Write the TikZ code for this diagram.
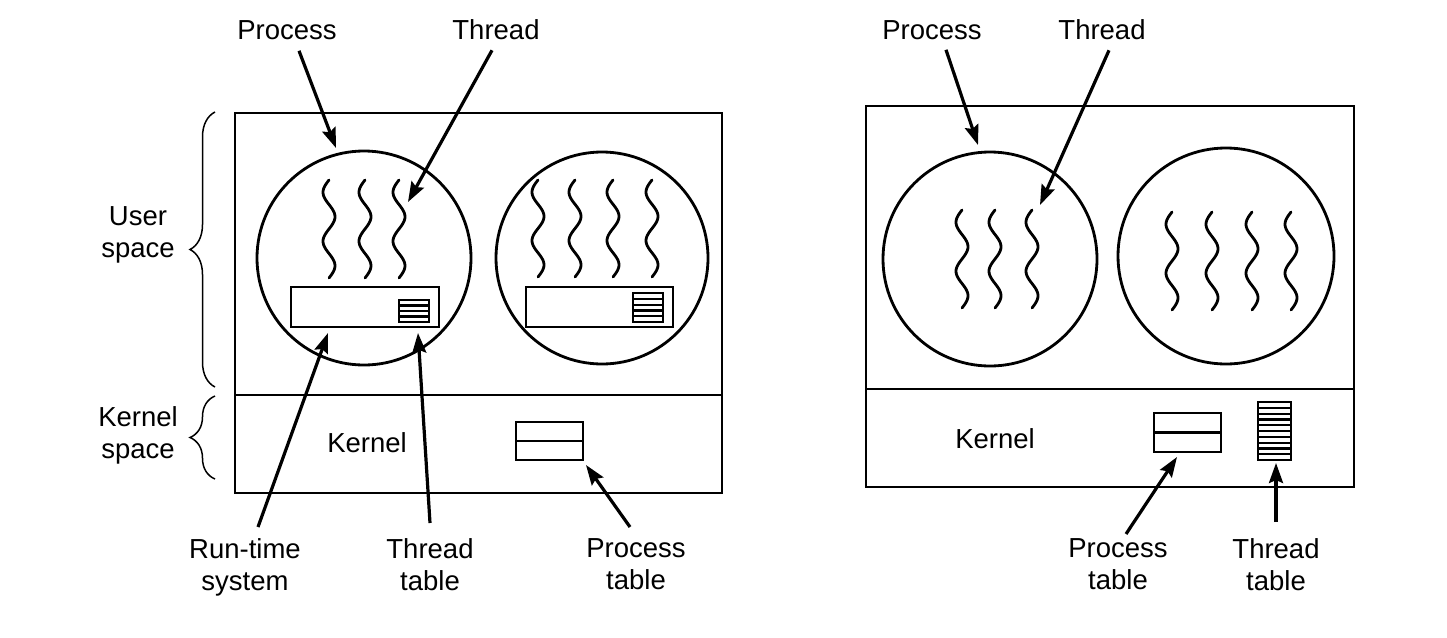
\documentclass[tikz,border=0pt]{standalone}
\usepackage{fontspec}
\setmainfont{Liberation Sans}
\usetikzlibrary{arrows.meta,decorations.pathreplacing,calc}
\begin{document}
\begin{tikzpicture}[x=1pt,y=-1pt,
  lbl/.style={inner sep=0pt,font=\fontsize{27.5}{32}\selectfont,align=center},
  region/.style={draw,line width=2.8pt,inner sep=0pt,outer sep=0pt},
  proc/.style={draw,circle,line width=2.8pt,inner sep=0pt,outer sep=0pt},
  tbox/.style={draw,line width=2.8pt,inner sep=0pt,outer sep=0pt},
  arr/.style={line width=3.2pt,-{Stealth[length=20pt,width=14pt,inset=3pt]}},
  squigline/.style={line width=2.8pt,line cap=round},
  rowline/.style={line width=2.2pt},
  bracestyle/.style={line width=1.5pt,decorate,decoration={brace,amplitude=25pt}}]
\useasboundingbox (0,0) rectangle (1447,637);
\newcommand\squigl[3]{\draw[squigline] plot[domain=0:1,samples=60,smooth] ({#1-6*sin(720*\x)},{#2+#3*\x});}
\newcommand\rowsin[2]{\foreach \k in {1,...,#2}{\pgfmathsetmacro\fr{\k/(#2+1)}\draw[rowline] ($(#1.north west)!\fr!(#1.south west)$) -- ($(#1.north east)!\fr!(#1.south east)$);}}

% ---------------- left diagram ----------------
\node[region,minimum width=487pt,minimum height=282pt] (user1) at (478.5,254) {};
\node[region,minimum width=487pt,minimum height=98pt] (kern1) at (478.5,444) {};
\node[proc,minimum size=214pt] (c11) at (364,258) {};
\node[proc,minimum size=212pt] (c12) at (602,258) {};
\squigl{329}{180}{98}
\squigl{365}{180}{98}
\squigl{399}{180}{98}
\squigl{538}{180}{97}
\squigl{575}{180}{97}
\squigl{613}{180}{97}
\squigl{652}{180}{97}
\node[tbox,minimum width=148pt,minimum height=40pt] (rt1) at (365,307) {};
\node[tbox,minimum width=30pt,minimum height=22pt] (tt1) at (414,311) {};
\rowsin{tt1}{3}
\node[tbox,minimum width=147pt,minimum height=40pt] (rt2) at (599.5,307) {};
\node[tbox,minimum width=30pt,minimum height=29pt] (tt2) at (648,307.5) {};
\rowsin{tt2}{4}
\node[tbox,minimum width=67pt,minimum height=38pt] (pt1) at (549.5,441) {};
\rowsin{pt1}{1}
\node[lbl] (k1) at (367,443) {Kernel};

\draw[bracestyle] (215,387) -- (215,112);
\draw[bracestyle] (215,479) -- (215,396);
\node[lbl,anchor=north] (us) at (138,206) {User\\space};
\node[lbl,anchor=north] (ks) at (138,406) {Kernel\\space};

\node[lbl] (lp1) at (287,30) {Process};
\node[lbl] (lt1) at (496,30) {Thread};
\coordinate (ap1) at (336,148);
\coordinate (at1) at (408,202);
\draw[arr] ([shift={(12,11)}]lp1.south) -- (ap1);
\draw[arr] ([shift={(-4,10)}]lt1.south) -- (at1);

\node[lbl,anchor=north] (lrt) at (245,538) {Run-time\\system};
\node[lbl,anchor=north] (ltt1) at (430,538) {Thread\\table};
\node[lbl,anchor=north] (lpt1) at (636,538) {Process\\table};
\coordinate (art) at (328,333);
\coordinate (att1) at (418,333);
\coordinate (apt1) at (586,465);
\draw[arr] ([shift={(13,-11)}]lrt.north) -- (art);
\draw[arr] ([shift={(0,-15)}]ltt1.north) -- (att1);
\draw[arr] ([shift={(-6,-11)}]lpt1.north) -- (apt1);

% ---------------- right diagram ----------------
\node[region,minimum width=488pt,minimum height=283pt] (user2) at (1110,247.5) {};
\node[region,minimum width=488pt,minimum height=98pt] (kern2) at (1110,438) {};
\node[proc,minimum size=214pt] (c21) at (990,259) {};
\node[proc,minimum size=216pt] (c22) at (1226,256) {};
\squigl{962}{210}{98}
\squigl{995}{210}{98}
\squigl{1032}{210}{98}
\squigl{1172}{212}{98}
\squigl{1212}{212}{98}
\squigl{1252}{212}{98}
\squigl{1291}{212}{98}
\node[tbox,minimum width=67pt,minimum height=39pt] (pt2) at (1187.5,432.5) {};
\rowsin{pt2}{1}
\node[tbox,minimum width=33pt,minimum height=58pt] (tt3) at (1274.5,431) {};
\rowsin{tt3}{9}
\node[lbl] (k2) at (995,439) {Kernel};

\node[lbl] (lp2) at (932,30) {Process};
\node[lbl] (lt2) at (1102,30) {Thread};
\coordinate (ap2) at (978,145);
\coordinate (at2) at (1040,205);
\draw[arr] ([shift={(14,10)}]lp2.south) -- (ap2);
\draw[arr] ([shift={(7,10)}]lt2.south) -- (at2);

\node[lbl,anchor=north] (lpt2) at (1118,538) {Process\\table};
\node[lbl,anchor=north] (ltt2) at (1276,538) {Thread\\table};
\coordinate (apt2) at (1177,457);
\coordinate (att2) at (1276,463);
\draw[arr] ([shift={(8,-4)}]lpt2.north) -- (apt2);
\draw[arr] ([shift={(0,-16)}]ltt2.north) -- (att2);
\end{tikzpicture}
\end{document}
